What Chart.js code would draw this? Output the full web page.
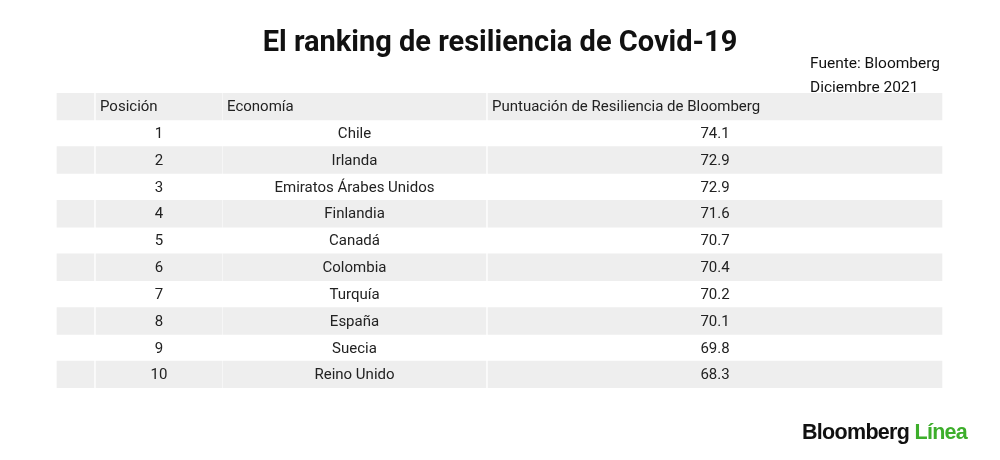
<!DOCTYPE html>
<html lang="es">

<head>
    <meta charset="UTF-8">
    <title>El ranking de resiliencia de Covid-19</title>
    <script src="https://cdn.jsdelivr.net/npm/chart.js"></script>
    <style>
        body { margin: 0; background: #fff; font-family: Roboto, sans-serif; }
        .lienzo { position: relative; width: 1000px; height: 460px; }
        .titulo { position: absolute; top: 24px; left: 0; width: 1000px; text-align: center;
                  font-size: 29px; font-weight: bold; color: #111; }
        .fuente { position: absolute; left: 810px; top: 51px; font-size: 15.5px; color: #111; line-height: 24px; }
        .logo { position: absolute; left: 802px; top: 420px; font-family: "Liberation Sans", Arial, sans-serif;
                font-size: 21.5px; font-weight: bold; letter-spacing: -0.7px; color: #111; }
        .logo span { color: #3dae2b; }
        .grafico { position: absolute; left: 0; top: 0; width: 1000px; height: 460px; }
    </style>
</head>

<body>
    <div class="lienzo">
        <div class="grafico"><canvas id="tablaResiliencia"></canvas></div>
        <div class="titulo">El ranking de resiliencia de Covid-19</div>
        <div class="fuente">Fuente: Bloomberg<br>Diciembre 2021</div>
        <div class="logo">Bloomberg <span>Línea</span></div>
    </div>
</body>
<script>
    // datos de la tabla
    var encabezados = ['', 'Posición', 'Economía', 'Puntuación de Resiliencia de Bloomberg']
    var posiciones = [1, 2, 3, 4, 5, 6, 7, 8, 9, 10]
    var economias = ['Chile', 'Irlanda', 'Emiratos Árabes Unidos', 'Finlandia', 'Canadá',
        'Colombia', 'Turquía', 'España', 'Suecia', 'Reino Unido']
    var puntuaciones = [74.1, 72.9, 72.9, 71.6, 70.7, 70.4, 70.2, 70.1, 69.8, 68.3]

    // bordes de columnas (en unidades del eje x)
    var columnas = [[57, 94], [96, 222], [223, 486], [488, 942]]

    var filas = ['encabezado'].concat(posiciones.map(String))

    function celdas(col) {
        // filas grises: encabezado y las pares
        return filas.map(function (f, i) {
            return i % 2 == 0 ? columnas[col] : null
        })
    }

    var datasets = []
    for (var c = 0; c < columnas.length; c++) {
        datasets.push({
            data: celdas(c),
            backgroundColor: '#eeeeee',
            borderWidth: 0,
            barPercentage: 1,
            categoryPercentage: 1
        })
    }

    const textos = {
        id: 'textos',
        afterDatasetsDraw(chart) {
            const ctx = chart.ctx
            const x = chart.scales.x
            const y = chart.scales.y
            ctx.save()
            ctx.fillStyle = '#222'
            ctx.font = '15px Roboto'
            ctx.textBaseline = 'middle'

            ctx.textAlign = 'left'
            for (var c = 1; c < encabezados.length; c++) {
                ctx.fillText(encabezados[c], x.getPixelForValue(columnas[c][0] + 4), y.getPixelForValue(0) + 1)
            }

            ctx.textAlign = 'center'
            for (var i = 0; i < posiciones.length; i++) {
                var yy = y.getPixelForValue(i + 1) + 1
                var fila = [posiciones[i], economias[i], puntuaciones[i].toFixed(1)]
                for (var c = 1; c < columnas.length; c++) {
                    var centro = (columnas[c][0] + columnas[c][1]) / 2
                    ctx.fillText(fila[c - 1], x.getPixelForValue(centro), yy)
                }
            }
            ctx.restore()
        }
    }

    const ctx = document.getElementById('tablaResiliencia').getContext('2d')
    const tabla = new Chart(ctx, {
        type: 'bar',
        data: {
            labels: filas,
            datasets: datasets
        },
        options: {
            indexAxis: 'y',
            responsive: true,
            maintainAspectRatio: false,
            animation: false,
            layout: {
                padding: { top: 93, bottom: 72, left: 0, right: 0 }
            },
            plugins: {
                legend: { display: false },
                tooltip: { enabled: false }
            },
            scales: {
                x: { type: 'linear', min: 0, max: 1000, display: false, stacked: false },
                y: { type: 'category', display: false, stacked: true }
            }
        },
        plugins: [textos]
    })
</script>

</html>
